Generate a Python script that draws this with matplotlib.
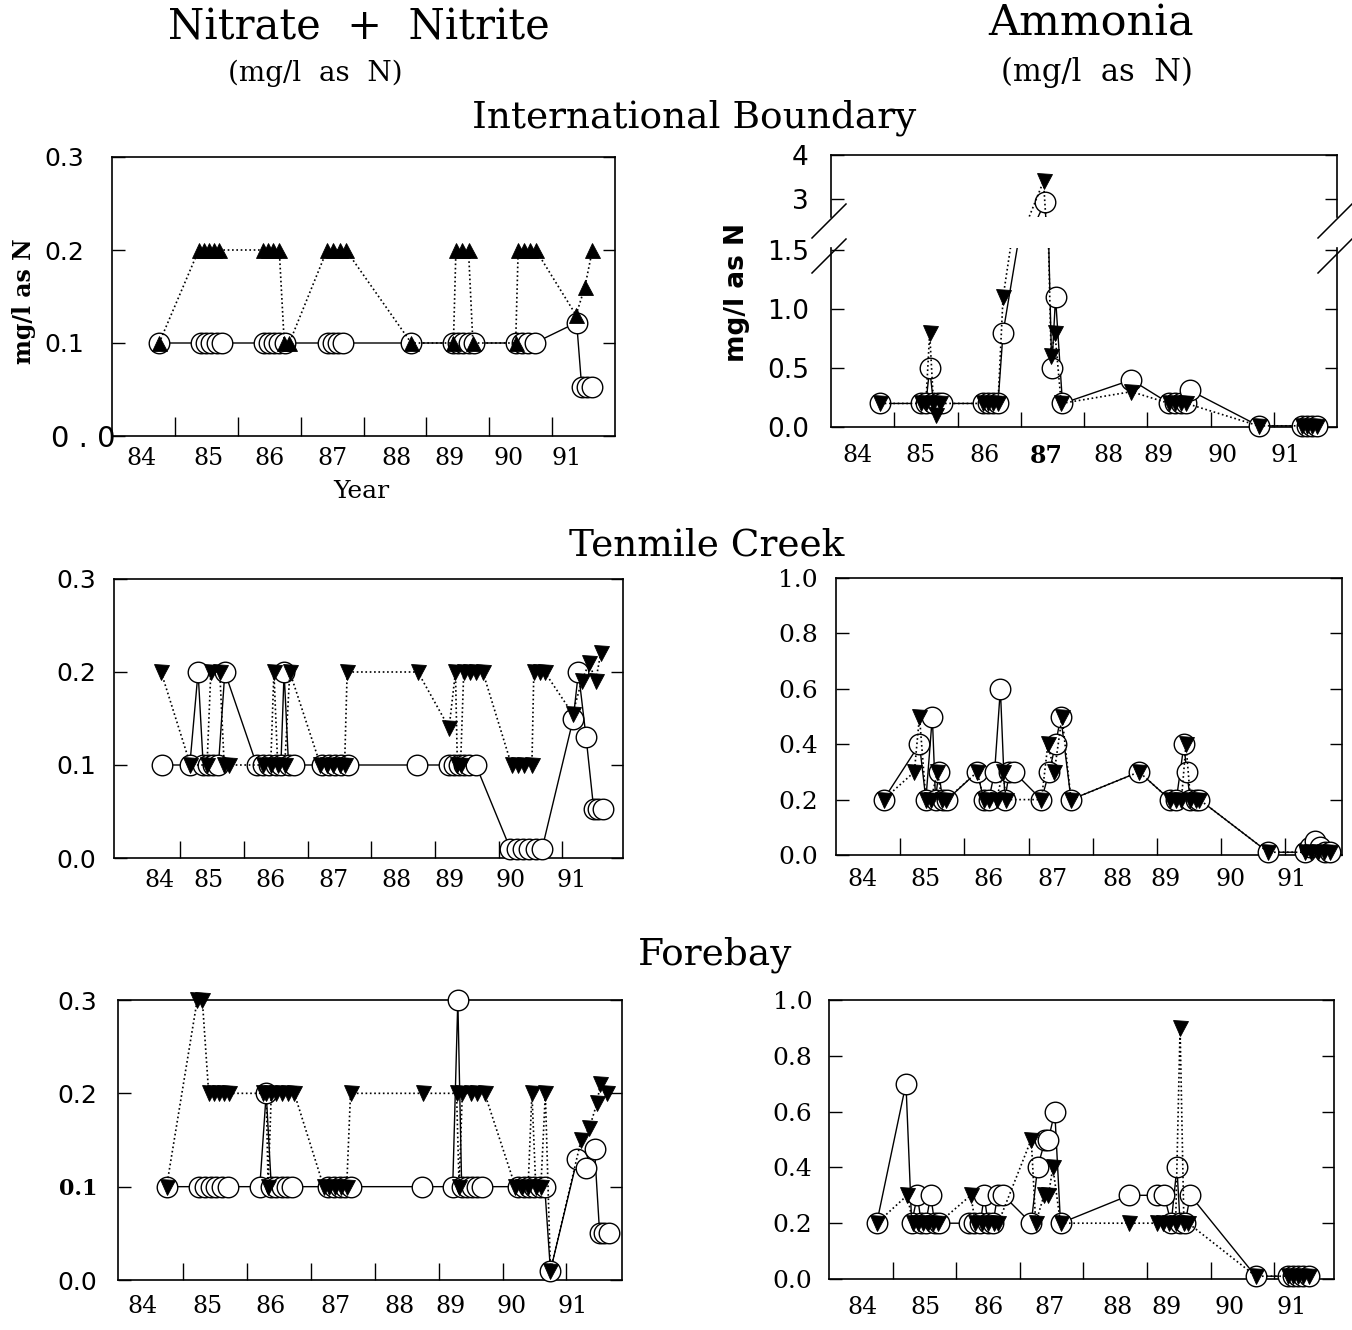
import matplotlib
matplotlib.use("Agg")
import matplotlib.pyplot as plt
from matplotlib.lines import Line2D
from matplotlib.transforms import ScaledTranslation

# ---------------- data ----------------
year_labels = ["84", "85", "86", "87", "88", "89", "90", "91"]

# International Boundary - Nitrate + Nitrite
ib_no3_circ_x = [84.75, 85.42, 85.5, 85.58, 85.67, 85.75, 86.42, 86.5, 86.58, 86.66, 86.75,
                 87.43, 87.51, 87.59, 87.67, 88.76, 89.43, 89.51, 89.59, 89.67, 89.75,
                 90.42, 90.52, 90.62, 90.72, 91.39, 91.47, 91.55, 91.63]
ib_no3_circ_y = [0.1, 0.1, 0.1, 0.1, 0.1, 0.1, 0.1, 0.1, 0.1, 0.1, 0.1,
                 0.1, 0.1, 0.1, 0.1, 0.1, 0.1, 0.1, 0.1, 0.1, 0.1,
                 0.1, 0.1, 0.1, 0.1, 0.122, 0.053, 0.053, 0.053]
ib_no3_tri_x = [84.75, 85.38, 85.46, 85.54, 85.62, 85.7, 86.4, 86.48, 86.56, 86.66, 86.74, 86.82,
                87.42, 87.52, 87.62, 87.72, 88.76, 89.43, 89.47, 89.57, 89.67, 89.74,
                90.42, 90.46, 90.56, 90.65, 90.74, 91.38, 91.52, 91.64]
ib_no3_tri_y = [0.1, 0.2, 0.2, 0.2, 0.2, 0.2, 0.2, 0.2, 0.2, 0.2, 0.1, 0.1,
                0.2, 0.2, 0.2, 0.2, 0.1, 0.1, 0.2, 0.2, 0.2, 0.1,
                0.1, 0.2, 0.2, 0.2, 0.2, 0.13, 0.16, 0.2]

# International Boundary - Ammonia
ib_nh3_circ_x = [84.78, 85.43, 85.5, 85.56, 85.62, 85.69, 85.75, 86.4, 86.48, 86.56, 86.64, 86.72,
                 87.38, 87.49, 87.55, 87.66, 88.75, 89.35, 89.44, 89.53, 89.62, 89.68,
                 90.76, 91.44, 91.52, 91.6, 91.69]
ib_nh3_circ_y = [0.2, 0.2, 0.2, 0.5, 0.2, 0.2, 0.2, 0.2, 0.2, 0.2, 0.2, 0.8,
                 2.92, 0.5, 1.1, 0.2, 0.4, 0.2, 0.2, 0.2, 0.2, 0.31,
                 0.01, 0.01, 0.01, 0.01, 0.01]
ib_nh3_tri_x = [84.78, 85.43, 85.5, 85.56, 85.62, 85.66, 85.72, 86.4, 86.48, 86.56, 86.64, 86.72,
                87.36, 87.48, 87.54, 87.64, 88.75, 89.35, 89.44, 89.53, 89.62,
                90.76, 91.44, 91.52, 91.6, 91.69]
ib_nh3_tri_y = [0.2, 0.2, 0.2, 0.8, 0.2, 0.1, 0.2, 0.2, 0.2, 0.2, 0.2, 1.1,
                3.4, 0.6, 0.8, 0.2, 0.3, 0.2, 0.2, 0.2, 0.2,
                0.01, 0.01, 0.01, 0.01, 0.01]

# Tenmile Creek - Nitrate + Nitrite
tc_no3_circ_x = [84.72, 85.15, 85.28, 85.36, 85.44, 85.52, 85.6, 85.7, 86.2, 86.3, 86.4, 86.5, 86.58,
                 86.63, 86.7, 86.78, 87.23, 87.33, 87.43, 87.53, 87.63, 88.72, 89.22, 89.3, 89.38,
                 89.46, 89.54, 89.64, 90.18, 90.28, 90.38, 90.48, 90.58, 90.68, 91.17, 91.25,
                 91.37, 91.49, 91.56, 91.63]
tc_no3_circ_y = [0.1, 0.1, 0.2, 0.1, 0.1, 0.1, 0.1, 0.2, 0.1, 0.1, 0.1, 0.1, 0.1,
                 0.2, 0.1, 0.1, 0.1, 0.1, 0.1, 0.1, 0.1, 0.1, 0.1, 0.1, 0.1,
                 0.1, 0.1, 0.1, 0.01, 0.01, 0.01, 0.01, 0.01, 0.01, 0.15, 0.2,
                 0.13, 0.053, 0.053, 0.053]
tc_no3_tri_x = [84.7, 85.16, 85.42, 85.48, 85.62, 85.69, 85.76, 86.3, 86.42, 86.47, 86.53, 86.64,
                86.72, 87.2, 87.3, 87.4, 87.5, 87.58, 87.62, 88.73, 89.22, 89.32, 89.35, 89.4,
                89.45, 89.55, 89.65, 89.75, 90.2, 90.3, 90.4, 90.52, 90.55, 90.65, 90.72,
                91.16, 91.3, 91.42, 91.52, 91.6]
tc_no3_tri_y = [0.2, 0.1, 0.1, 0.2, 0.2, 0.1, 0.1, 0.1, 0.1, 0.2, 0.1, 0.1,
                0.2, 0.1, 0.1, 0.1, 0.1, 0.1, 0.2, 0.2, 0.14, 0.2, 0.1, 0.1,
                0.2, 0.2, 0.2, 0.2, 0.1, 0.1, 0.1, 0.1, 0.2, 0.2, 0.2,
                0.155, 0.19, 0.21, 0.19, 0.22]

# Tenmile Creek - Ammonia
tc_nh3_circ_x = [84.74, 85.3, 85.4, 85.5, 85.55, 85.6, 85.66, 85.73, 86.2, 86.3, 86.38, 86.47,
                 86.56, 86.63, 86.7, 86.77, 87.2, 87.32, 87.42, 87.5, 87.66, 88.72, 89.2, 89.3,
                 89.42, 89.46, 89.52, 89.6, 89.66, 90.73, 91.3, 91.38, 91.46, 91.54, 91.62, 91.7]
tc_nh3_circ_y = [0.2, 0.4, 0.2, 0.5, 0.2, 0.3, 0.2, 0.2, 0.3, 0.2, 0.2, 0.3,
                 0.6, 0.2, 0.3, 0.3, 0.2, 0.3, 0.4, 0.5, 0.2, 0.3, 0.2, 0.2,
                 0.4, 0.3, 0.2, 0.2, 0.2, 0.01, 0.01, 0.03, 0.05, 0.03, 0.01, 0.01]
tc_nh3_tri_x = [84.74, 85.22, 85.3, 85.4, 85.48, 85.58, 85.65, 85.72, 86.2, 86.3, 86.38, 86.5,
                86.6, 86.65, 87.2, 87.3, 87.4, 87.52, 87.66, 88.72, 89.2, 89.3, 89.38, 89.45,
                89.52, 89.6, 89.66, 90.73, 91.3, 91.4, 91.5, 91.6, 91.7]
tc_nh3_tri_y = [0.2, 0.3, 0.5, 0.2, 0.2, 0.3, 0.2, 0.2, 0.3, 0.2, 0.2, 0.2,
                0.3, 0.2, 0.2, 0.4, 0.3, 0.5, 0.2, 0.3, 0.2, 0.2, 0.2, 0.4,
                0.2, 0.2, 0.2, 0.01, 0.01, 0.01, 0.01, 0.01, 0.01]

# Forebay - Nitrate + Nitrite
fb_no3_circ_x = [84.74, 85.25, 85.34, 85.43, 85.52, 85.61, 85.7, 86.2, 86.3, 86.38, 86.46, 86.54,
                 86.62, 86.7, 87.27, 87.36, 87.45, 87.54, 87.63, 88.74, 89.22, 89.3, 89.36, 89.44,
                 89.52, 89.6, 89.68, 90.24, 90.33, 90.42, 90.5, 90.58, 90.66, 90.75, 91.17,
                 91.3, 91.44, 91.52, 91.59, 91.66]
fb_no3_circ_y = [0.1, 0.1, 0.1, 0.1, 0.1, 0.1, 0.1, 0.1, 0.2, 0.1, 0.1, 0.1,
                 0.1, 0.1, 0.1, 0.1, 0.1, 0.1, 0.1, 0.1, 0.1, 0.3, 0.1, 0.1,
                 0.1, 0.1, 0.1, 0.1, 0.1, 0.1, 0.1, 0.1, 0.1, 0.01, 0.13,
                 0.12, 0.14, 0.05, 0.05, 0.05]
fb_no3_tri_x = [84.74, 85.22, 85.3, 85.4, 85.48, 85.56, 85.64, 85.72, 86.25, 86.3, 86.33, 86.38,
                86.46, 86.55, 86.64, 86.74, 87.2, 87.29, 87.38, 87.47, 87.56, 87.62, 88.75,
                89.28, 89.32, 89.37, 89.5, 89.6, 89.72, 90.2, 90.3, 90.4, 90.46, 90.52, 90.6,
                90.67, 90.75, 91.23, 91.36, 91.48, 91.53, 91.63]
fb_no3_tri_y = [0.1, 0.3, 0.3, 0.2, 0.2, 0.2, 0.2, 0.2, 0.2, 0.2, 0.1, 0.2,
                0.2, 0.2, 0.2, 0.2, 0.1, 0.1, 0.1, 0.1, 0.1, 0.2, 0.2,
                0.2, 0.1, 0.2, 0.2, 0.2, 0.2, 0.1, 0.1, 0.1, 0.2, 0.1, 0.1,
                0.2, 0.01, 0.15, 0.163, 0.19, 0.21, 0.2]

# Forebay - Ammonia
fb_nh3_circ_x = [84.75, 85.21, 85.3, 85.39, 85.45, 85.52, 85.6, 85.66, 85.73, 86.2, 86.28, 86.38,
                 86.44, 86.5, 86.58, 86.65, 86.74, 87.18, 87.28, 87.4, 87.45, 87.55, 87.64,
                 88.72, 89.15, 89.27, 89.38, 89.47, 89.52, 89.6, 89.68, 90.71, 91.22, 91.3,
                 91.38, 91.46, 91.54]
fb_nh3_circ_y = [0.2, 0.7, 0.2, 0.3, 0.2, 0.2, 0.3, 0.2, 0.2, 0.2, 0.2, 0.2,
                 0.3, 0.2, 0.2, 0.3, 0.3, 0.2, 0.4, 0.5, 0.5, 0.6, 0.2,
                 0.3, 0.3, 0.3, 0.2, 0.4, 0.2, 0.2, 0.3, 0.01, 0.01, 0.01,
                 0.01, 0.01, 0.01]
fb_nh3_tri_x = [84.75, 85.23, 85.32, 85.4, 85.48, 85.56, 85.64, 85.72, 86.23, 86.3, 86.4, 86.5,
                86.6, 86.66, 87.18, 87.25, 87.38, 87.45, 87.52, 87.64, 88.72, 89.15, 89.25,
                89.35, 89.45, 89.52, 89.58, 89.65, 90.71, 91.22, 91.3, 91.38, 91.46, 91.54]
fb_nh3_tri_y = [0.2, 0.3, 0.2, 0.2, 0.2, 0.2, 0.2, 0.2, 0.3, 0.2, 0.2, 0.2,
                0.2, 0.2, 0.5, 0.2, 0.3, 0.3, 0.4, 0.2, 0.2, 0.2, 0.2,
                0.2, 0.2, 0.9, 0.2, 0.2, 0.01, 0.01, 0.01, 0.01, 0.01, 0.01]

# ---------------- layout ----------------
W, H = 1352, 1330
fig = plt.figure(figsize=(W / 100, H / 100), dpi=100)
SERIF = "DejaVu Serif"
SANS = "DejaVu Sans"


def rect(l, t, r, b):
    return [l / W, 1 - b / H, (r - l) / W, (b - t) / H]


def ftext(x, y, s, **kw):
    fig.text(x / W, 1 - y / H, s, ha="center", va="center", **kw)


def draw_series(ax, cx, cy, tx, ty, tmark):
    ax.plot(cx, cy, "-", color="k", lw=1.0, zorder=3, clip_on=False)
    ax.plot(cx, cy, "o", ms=14.8, mfc="white", mec="k", mew=1.0, zorder=3.5, clip_on=False)
    ax.plot(tx, ty, color="k", lw=1.2, ls=(0, (1, 1.6)), zorder=4, clip_on=False)
    ax.plot(tx, ty, tmark, ms=10.8, mfc="k", mec="k", mew=0.6, zorder=5, clip_on=False)


def style(ax, xlim, ylim, yticks, ylabels, lab_pos, yfont, ylab_size, ypad, xpad,
          xtick_len=12, bold_x=None):
    ax.set_xlim(*xlim)
    ax.set_ylim(*ylim)
    for s in ax.spines.values():
        s.set_linewidth(1.2)
    ax.set_xticks([85, 86, 87, 88, 89, 90, 91])
    ax.set_xticklabels([])
    ax.set_xticks(lab_pos, minor=True)
    ax.set_xticklabels(year_labels, minor=True, fontfamily=SERIF, fontsize=17)
    ax.tick_params(axis="x", which="major", direction="in", length=xtick_len, width=1.0,
                   top=False, bottom=True)
    ax.tick_params(axis="x", which="minor", length=0, pad=xpad)
    ax.set_yticks(yticks)
    ax.set_yticklabels(ylabels, fontfamily=yfont, fontsize=ylab_size)
    ax.tick_params(axis="y", which="both", direction="in", length=9, width=1.0,
                   left=True, right=True, pad=ypad)
    ax.yaxis.set_minor_locator(matplotlib.ticker.NullLocator())
    if bold_x is not None:
        for t in ax.get_xticklabels(minor=True):
            if t.get_text() == bold_x:
                t.set_fontweight("bold")


# ---- Panel A: International Boundary, nitrate ----
axA = fig.add_axes(rect(112, 157, 615, 436))
draw_series(axA, ib_no3_circ_x, ib_no3_circ_y, ib_no3_tri_x, ib_no3_tri_y, "^")
style(axA, (84, 92), (0, 0.3), [0, 0.1, 0.2, 0.3], ["0 . 0", "0.1", "0.2", "0.3"],
      [84.47, 85.53, 86.5, 87.51, 88.52, 89.36, 90.3, 91.23], SANS, 18, 20, 8, xtick_len=14)
lab00 = axA.get_yticklabels()[0]
lab00.set_fontsize(21)
lab00.set_transform(lab00.get_transform() + ScaledTranslation(31 / 100, 0, fig.dpi_scale_trans))

# ---- Panel B: International Boundary, ammonia (broken axis) ----
axBl = fig.add_axes(rect(831, 248, 1337, 427))
axBu = fig.add_axes(rect(831, 155, 1337, 217))
for ax in (axBl, axBu):
    ax.plot(ib_nh3_circ_x, ib_nh3_circ_y, "-", color="k", lw=1.0, zorder=3, clip_on=True)
    ax.plot(ib_nh3_tri_x, ib_nh3_tri_y, color="k", lw=1.2, ls=(0, (1, 1.6)), zorder=4, clip_on=True)
low_c = [(x, y) for x, y in zip(ib_nh3_circ_x, ib_nh3_circ_y) if y <= 1.52]
up_c = [(x, y) for x, y in zip(ib_nh3_circ_x, ib_nh3_circ_y) if y >= 2.58]
low_t = [(x, y) for x, y in zip(ib_nh3_tri_x, ib_nh3_tri_y) if y <= 1.52]
up_t = [(x, y) for x, y in zip(ib_nh3_tri_x, ib_nh3_tri_y) if y >= 2.58]
for ax, cc, tt in ((axBl, low_c, low_t), (axBu, up_c, up_t)):
    ax.plot([p[0] for p in cc], [p[1] for p in cc], "o", ms=14.8, mfc="white", mec="k",
            mew=1.0, zorder=3.5, clip_on=False)
    ax.plot([p[0] for p in tt], [p[1] for p in tt], "v", ms=10.8, mfc="k", mec="k",
            mew=0.6, zorder=5, clip_on=False)
b_lab = [84.42, 85.41, 86.42, 87.41, 88.39, 89.17, 90.19, 91.19]
style(axBl, (84, 92), (0, 1.52), [0, 0.5, 1.0, 1.5], ["0.0", "0.5", "1.0", "1.5"],
      b_lab, SANS, 19, 16, 12, xtick_len=11, bold_x="87")
axBu.set_xlim(84, 92)
axBu.set_ylim(2.58, 4.0)
axBu.set_xticks([])
axBu.set_yticks([3, 4])
axBu.set_yticklabels(["3", "4"], fontfamily=SANS, fontsize=19)
axBu.tick_params(axis="y", direction="in", length=9, width=1.0, left=True, right=True, pad=16)
for s in axBu.spines.values():
    s.set_linewidth(1.2)
axBu.spines["bottom"].set_visible(False)
axBl.spines["top"].set_visible(False)
axBu.patch.set_alpha(0)
axBl.patch.set_alpha(0)
# break marks
for (x0, y0) in [(829, 221), (829, 256), (1335, 221), (1335, 256)]:
    fig.add_artist(Line2D([(x0 - 17) / W, (x0 + 17) / W], [1 - (y0 + 17) / H, 1 - (y0 - 17) / H],
                          transform=fig.transFigure, color="k", lw=1.1))

# ---- Panel C: Tenmile Creek, nitrate ----
axC = fig.add_axes(rect(114, 579, 623, 858))
draw_series(axC, tc_no3_circ_x, tc_no3_circ_y, tc_no3_tri_x, tc_no3_tri_y, "v")
style(axC, (83.96, 91.95), (0, 0.3), [0, 0.1, 0.2, 0.3], ["0.0", "0.1", "0.2", "0.3"],
      [84.68, 85.44, 86.41, 87.40, 88.40, 89.22, 90.18, 91.15], SANS, 18, 13, 8)

# ---- Panel D: Tenmile Creek, ammonia ----
axD = fig.add_axes(rect(836, 578, 1342, 855))
draw_series(axD, tc_nh3_circ_x, tc_nh3_circ_y, tc_nh3_tri_x, tc_nh3_tri_y, "v")
style(axD, (84, 91.88), (0, 1.0), [0, 0.2, 0.4, 0.6, 0.8, 1.0],
      ["0.0", "0.2", "0.4", "0.6", "0.8", "1.0"],
      [84.42, 85.4, 86.38, 87.37, 88.38, 89.13, 90.14, 91.1], SERIF, 18, 13, 9)

# ---- Panel E: Forebay, nitrate ----
axE = fig.add_axes(rect(118, 1000, 622, 1280))
draw_series(axE, fb_no3_circ_x, fb_no3_circ_y, fb_no3_tri_x, fb_no3_tri_y, "v")
style(axE, (83.98, 91.87), (0, 0.3), [0, 0.1, 0.2, 0.3], ["0.0", "0.1", "0.2", "0.3"],
      [84.36, 85.38, 86.37, 87.38, 88.38, 89.18, 90.14, 91.09], SANS, 18, 15, 11)
lab01 = axE.get_yticklabels()[1]
lab01.set_fontfamily(SERIF)
lab01.set_fontweight("bold")
lab01.set_fontsize(16)

# ---- Panel F: Forebay, ammonia ----
axF = fig.add_axes(rect(829, 1000, 1334, 1279))
draw_series(axF, fb_nh3_circ_x, fb_nh3_circ_y, fb_nh3_tri_x, fb_nh3_tri_y, "v")
style(axF, (84, 91.94), (0, 1.0), [0, 0.2, 0.4, 0.6, 0.8, 1.0],
      ["0.0", "0.2", "0.4", "0.6", "0.8", "1.0"],
      [84.52, 85.51, 86.5, 87.47, 88.53, 89.3, 90.3, 91.28], SERIF, 18, 12, 12)

# ---------------- texts ----------------
ftext(359, 28, "Nitrate  +  Nitrite", fontfamily=SERIF, fontsize=30)
ftext(315, 73, "(mg/l  as  N)", fontfamily=SERIF, fontsize=20)
ftext(1091, 24, "Ammonia", fontfamily=SERIF, fontsize=31)
ftext(1097, 72, "(mg/l  as  N)", fontfamily=SERIF, fontsize=22)
ftext(694, 118, "International Boundary", fontfamily=SERIF, fontsize=27)
ftext(707, 545, "Tenmile Creek", fontfamily=SERIF, fontsize=27)
ftext(715, 955, "Forebay", fontfamily=SERIF, fontsize=27)
ftext(361, 492, "Year", fontfamily=SERIF, fontsize=18)
ftext(24, 301, "mg/l as N", fontfamily=SERIF, fontsize=17, rotation=90, fontweight="bold")
ftext(737, 292, "mg/l as N", fontfamily=SANS, fontsize=19, rotation=90, fontweight="bold")

fig.savefig("out.png", dpi=100)
